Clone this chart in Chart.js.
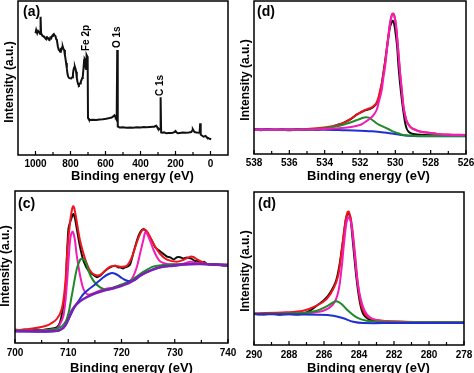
<!DOCTYPE html>
<html><head><meta charset="utf-8">
<script src="https://cdn.jsdelivr.net/npm/chart.js@4.4.1/dist/chart.umd.min.js"></script>
<style>
html,body{margin:0;padding:0;background:#fff;}
#wrap{position:relative;width:474px;height:373px;overflow:hidden;background:#fff;}
canvas{position:absolute;}
</style></head><body>
<div id="wrap">
<canvas id="pa" width="237" height="186" style="left:0;top:0"></canvas>
<canvas id="pb" width="237" height="186" style="left:237px;top:0"></canvas>
<canvas id="pc" width="237" height="187" style="left:0;top:186px"></canvas>
<canvas id="pd" width="237" height="187" style="left:237px;top:186px"></canvas>
</div>
<script>
// ---------- DATA ([binding energy eV, intensity a.u.]) ----------
const surveyTicks = [1000, 800, 600, 400, 200, 0];
const surveyMinorTicks = [900, 700, 500, 300, 100];
const surveyPeakNames = ['Fe 2p', 'O 1s', 'C 1s'];
const surveyPeakEnergy = [711, 531, 285];
const surveyPeakHeight = [104, 107, 59];
const survey = [[1000,121.7],[996,125],[990,121.7],[985,124],[977,122.3],[973,121],[971,138.3],[968,121.7],[962,119.5],[958,119],[949,118.3],[944,116.5],[939,115.7],[934,118],[930,117.7],[925,115.5],[920,115],[915,117.5],[910,116.7],[905,119],[901,120],[895,121],[890,119.5],[886,119],[882,116],[878,115],[872,108.3],[867,105],[863,104.5],[859,103.3],[855,106],[851,105.7],[847,108],[844,108.3],[840,106],[836,105],[832,100],[829,96.7],[825,92],[821,86.7],[817,81],[813,78.3],[808,77],[802,76.7],[796,76.5],[790,77.7],[786,81],[783,85],[779,87.5],[775,88.3],[771,86],[768,83.3],[764,77],[760,73.3],[756,70.5],[752,70],[748,71],[745,71.7],[741,73.5],[737,75],[733,77],[730,78.3],[726,86],[722,95],[719,96],[716,95],[713,87],[711,86],[709,96],[707,100],[704,98.5],[702,97],[700,37],[695,35.5],[691,35],[672,35.3],[653,35],[634,35.6],[615,35.7],[596,36.3],[577,37],[565,37.5],[558,38.3],[552,39.2],[549,39.7],[545,38.5],[541,37],[536,37.5],[533,105],[530,28.5],[526,28.3],[520,27.5],[500,27.8],[480,27.3],[460,27.6],[444,27.3],[420,27.8],[400,27.5],[380,27.9],[368,27.7],[345,28],[330,28.2],[320,28.3],[314,29],[310,29.3],[305,28],[301,26.7],[296,26.2],[291,25.7],[288,26],[285,57.7],[282,22.5],[276,22.3],[265,22.6],[253,21.7],[240,22],[225,22.1],[215,22.3],[205,23],[200,24],[195,22.8],[187,21.7],[175,22.1],[160,22.4],[139,22.3],[125,22.6],[110,23],[104,24.5],[101,25.7],[96,24.2],[91,23],[80,22.5],[67,22.3],[62,23],[59,31.7],[56,20.5],[50,19.5],[45,19],[40,18.3],[35,18.6],[29,19],[25,18.5],[21,17.7],[15,17.2],[10,16.7],[5,16.2],[-4,15.7]];

const o1sTicks = [538, 536, 534, 532, 530, 528, 526];
const o1sMinorTicks = [537, 535, 533, 531, 529, 527];
const o1sRaw = [[538,24.3],[537.6,23.8],[537.2,24.6],[536.8,23.9],[536.4,24.4],[536,23.7],[535.6,24.5],[535.2,23.9],[534.8,24.6],[534.4,24.3],[534.1,25.2],[533.8,26.3],[533.5,27.6],[533.2,29.6],[533,30.6],[532.77,32.6],[532.5,35.2],[532.2,39.3],[532,41.2],[531.8,43],[531.6,44.2],[531.4,45.4],[531.2,47.8],[531.06,50.7],[530.95,55],[530.87,60.7],[530.77,70],[530.68,80.7],[530.58,92],[530.49,104],[530.4,116],[530.3,127.3],[530.2,132],[530.15,133.3],[530.08,131],[530.01,124],[529.9,108],[529.82,87.3],[529.73,70],[529.63,54],[529.54,42],[529.44,30.7],[529.35,25],[529.25,22.3],[529.1,20.5],[528.97,20],[528.6,19.3],[528,18.8],[527.4,18.6],[527,18.3],[526.5,18.5],[526,18.3]];
const o1sFit = [[538,24.5],[536,24.6],[535,25],[534.3,26],[533.5,28],[533,30.5],[532.77,32.3],[532.5,35.5],[532.2,39],[531.95,41.8],[531.72,44],[531.5,45.5],[531.34,46.7],[531.2,48.5],[531.06,51.3],[530.95,57],[530.87,63],[530.77,70],[530.68,80],[530.58,92],[530.49,105],[530.39,119],[530.3,131],[530.2,139],[530.13,140.5],[530.05,138],[529.96,128.5],[529.82,100.5],[529.73,81],[529.63,63.3],[529.54,47.7],[529.44,38.3],[529.35,32.5],[529.2,28.2],[529.06,25.9],[528.78,23.6],[528.59,22.4],[528,21.1],[527.63,20.1],[527,19.4],[526,19.1]];
const o1sLattice = [[538,24.2],[536,24.3],[535,24.5],[534,25],[533,26],[532.5,27],[532,29],[531.82,30.7],[531.5,34.5],[531.25,38.5],[531.06,44],[530.92,53],[530.77,64],[530.68,76],[530.58,87.3],[530.49,102],[530.39,117.3],[530.3,130],[530.2,138.5],[530.13,140],[530.05,137.5],[529.96,128],[529.82,100],[529.73,80.7],[529.63,63],[529.54,47.3],[529.44,38],[529.35,32.3],[529.2,28],[529.06,25.7],[528.78,23.5],[528.59,22.3],[528,21],[527.63,20],[527,19.3],[526,19]];
const o1sHydroxyl = [[538,24],[536,24.2],[535,24.6],[534,25.8],[533.34,27.7],[533,29],[532.58,31.3],[532.2,33.7],[532,35],[531.82,36.2],[531.67,36.7],[531.5,36.3],[531.25,33.3],[531,30],[530.68,27.3],[530.4,25],[530.11,22.3],[529.8,20.5],[529.54,19],[529,18.2],[528,18],[526,18]];
const o1sBackground = [[538,24.7],[536,24.5],[534,24.2],[533,23.8],[532,23.3],[531.5,22.8],[531,22.3],[530.5,21.3],[530,20],[529.54,18.7],[529,18],[528,17.8],[526,17.8]];

const fe2pTicks = [700, 710, 720, 730, 740];
const fe2pMinorTicks = [705, 715, 725, 735];
const fe2pRaw = [[700,13.3],[701,12.8],[702,13.6],[703,12.5],[704,13.4],[705,13],[706,13.8],[707,14.5],[707.84,15.7],[708.46,20.7],[709.09,37.3],[709.53,57.3],[709.72,84],[710.03,114],[710.34,120.7],[710.66,125.7],[710.97,129],[711.29,124],[711.72,110.7],[712.23,95.7],[712.85,82.3],[713.79,72.3],[714.73,68],[715.36,65.7],[715.99,67.3],[716.3,69],[716.93,72.3],[717.87,75.7],[718.81,77.3],[719.4,75.5],[719.75,75.7],[720.3,74.5],[720.69,75.7],[721.2,76.5],[721.63,78.7],[722.26,90.7],[722.88,102.3],[723.51,110.7],[724.14,114],[724.5,112.5],[724.76,110.7],[725.3,106],[725.71,102.3],[726.3,96],[726.65,94],[727.3,91.5],[727.9,89],[728.5,86.5],[729.15,85.7],[729.8,83.5],[730.41,85.7],[731.03,85.7],[731.66,84.5],[732.29,85.5],[732.92,84.7],[733.23,84],[733.8,82],[734.17,82.3],[734.8,80],[735.5,81.2],[736.05,79],[737,78.5],[737.93,78.7],[739,77.5],[740,78]];
const fe2pFit = [[700,13],[702,13.5],[704.7,15.7],[706,17.5],[706.58,19],[707.84,24],[708.78,34],[709.4,57.3],[709.9,97.3],[710.34,120.7],[710.72,134],[710.97,136.7],[711.29,130.7],[711.72,117.3],[712.23,102],[713.17,84],[714.11,72.3],[715.05,68],[715.99,68],[716.93,72.3],[717.87,76.3],[718.81,77.3],[719.75,76.3],[721,77.3],[721.94,85.7],[722.88,100.7],[723.82,112.3],[724.45,113.3],[725.08,109],[726.02,99],[727.27,89],[728.53,83.3],[730.41,81.3],[731.66,83.3],[732.92,86.3],[733.5,86],[734.17,83.7],[736.05,79],[738,78.3],[740,78]];
const fe2pMain = [[700,12.3],[704,12.5],[706.58,13.3],[707.84,14.3],[708.15,15.7],[709.09,27.3],[709.72,57.3],[710.16,90.7],[710.47,107.3],[710.85,111.3],[711.22,104],[711.6,87.3],[712.23,67.3],[712.85,54],[713.48,49],[714.11,48.5],[715.05,50.3],[716,52.5],[717,54],[718,55],[719,56],[720,58],[721,60],[721.94,64],[722.88,76],[723.51,90],[724.14,104],[724.45,110.7],[724.76,109.5],[725.39,102],[726.02,93],[726.65,86],[727.27,81.5],[728.53,79],[730,78.7],[731.66,79.3],[732.92,81.3],[734,80],[736,79],[740,78.5]];
const fe2pSecond = [[700,12.3],[706,12.8],[708.46,15.7],[709.72,24],[710.66,47.3],[711.6,74],[712.23,83.3],[712.54,84],[713.17,82.3],[714.11,68],[715.05,60],[715.99,55.7],[716.93,53.5],[717.87,54],[719,56.5],[720,58.5],[721,60.5],[722,63.5],[723,67],[724,71],[725,74],[726,76.5],[728,78],[730,78.5],[733,79],[736,79],[740,78.3]];
const fe2pSatellite = [[700,11.7],[708,12],[709.4,17.3],[710.34,27],[711.2,36],[712,42.5],[712.85,49],[713.8,53.5],[714.73,57.3],[715.7,61.7],[716.61,65.7],[717.4,68.5],[718.18,70],[718.81,69.3],[719.44,67.3],[720.06,65],[720.69,63],[721.63,61.5],[722.26,62.3],[722.88,64.3],[723.51,67.3],[725.39,72.3],[727.27,75.7],[729.78,77.3],[732.29,78.7],[734.8,79],[737.93,78.3],[740,77.3]];
const fe2pBackground = [[700,11.7],[704,11.7],[707.84,12.3],[708.78,14],[709.4,17.3],[710.03,24],[710.66,32.3],[711.6,39],[712.85,44],[714.73,49],[716.61,52.3],[719.12,55.7],[721.63,60.7],[723.51,67.3],[725.39,72.3],[727.27,75.7],[729.78,77.3],[732.29,78.7],[734.8,79],[737.93,78.3],[740,77.3]];

const c1sTicks = [290, 288, 286, 284, 282, 280, 278];
const c1sMinorTicks = [289, 287, 285, 283, 281, 279];
const c1sRaw = [[290,31],[289.5,30.5],[289,31.2],[288.5,30.2],[288,31],[287.5,30.6],[287.19,31.5],[286.8,34.3],[286.42,39.3],[286.04,44.3],[285.76,49.3],[285.47,57.7],[285.28,66],[285.09,82.7],[284.9,106],[284.75,126],[284.62,132.7],[284.48,126],[284.33,99.3],[284.14,66],[283.95,42.7],[283.76,31],[283.48,26],[283.19,24.3],[282.81,23.3],[282,23],[281,22.8],[280,22.7],[279,22.8],[278,22.7]];
const c1sFit = [[290,31.7],[288.14,32.7],[287.19,34.3],[286.42,39.3],[285.85,46],[285.47,56],[285.19,69.3],[285,92.7],[284.81,119.3],[284.66,132.7],[284.58,133.3],[284.43,122.7],[284.24,92.7],[284.05,59.3],[283.86,39.3],[283.57,29.3],[283,25],[281.48,23.3],[280,22.8],[278,22.7]];
const c1sMain = [[290,31],[288,31.3],[287.19,31.7],[286.04,34.3],[285.47,41],[285.19,52.7],[285,76],[284.87,99.3],[284.71,122.7],[284.58,127.7],[284.43,119.3],[284.24,89.3],[284.05,59.3],[283.76,37.7],[283.38,27.7],[282.81,24.3],[281.48,23.3],[280,22.8],[278,22.7]];
const c1sSecond = [[290,31],[287.19,32],[286.42,34.3],[285.85,38.7],[285.47,42.7],[285.28,43.7],[285,41],[284.62,34.3],[284.14,27.7],[283.57,24.3],[282.81,23.3],[281,22.8],[278,22.7]];
const c1sBackground = [[290,31],[286.23,30.3],[285.47,29.3],[284.9,26.7],[284.33,23.3],[283.76,22],[282,22],[278,22]];

// ---------- STYLE ----------
const FAM = 'Arial, "Liberation Sans", sans-serif';
const C = { black:'#111111', red:'#f0141c', pink:'#f21cb8', green:'#1f8a28', blue:'#1f2fd0', purple:'#7a22b4' };
Chart.defaults.font.family = FAM;

const decor = {
  id: 'decor',
  afterDraw(chart, args, o) {
    const ctx = chart.ctx, a = chart.chartArea, xs = chart.scales.x, ys = chart.scales.y;
    ctx.save();
    ctx.strokeStyle = '#000'; ctx.lineWidth = 1.5;
    ctx.strokeRect(a.left, a.top, a.right - a.left, a.bottom - a.top);
    ctx.lineWidth = 1.2;
    ctx.beginPath();
    o.major.forEach(v => { const px = xs.getPixelForValue(v); ctx.moveTo(px, a.bottom); ctx.lineTo(px, a.bottom - 4); });
    o.minor.forEach(v => { const px = xs.getPixelForValue(v); ctx.moveTo(px, a.bottom); ctx.lineTo(px, a.bottom - 3); });
    ctx.stroke();
    ctx.fillStyle = '#000';
    ctx.textAlign = 'center'; ctx.textBaseline = 'middle';
    ctx.font = 'bold 13px ' + FAM;
    ctx.fillText(o.xTitle, o.xTitlePos[0], o.xTitlePos[1]);
    ctx.save();
    ctx.translate(o.yTitlePos[0], o.yTitlePos[1]); ctx.rotate(-Math.PI / 2);
    ctx.font = 'bold 12px ' + FAM; ctx.fillText(o.yTitle, 0, 0);
    ctx.restore();
    ctx.font = 'bold 14px ' + FAM; ctx.textAlign = 'left';
    ctx.fillText(o.label, o.labelPos[0], o.labelPos[1]);
    (o.peaks || []).forEach(p => {
      const px = xs.getPixelForValue(p.x), py = ys.getPixelForValue(p.y);
      ctx.save(); ctx.translate(px, py); ctx.rotate(-Math.PI / 2);
      ctx.font = 'bold 10px ' + FAM; ctx.textAlign = 'left'; ctx.textBaseline = 'middle';
      ctx.fillText(p.text, 0, 0); ctx.restore();
    });
    ctx.restore();
  }
};

function makePanel(id, cfg) {
  new Chart(document.getElementById(id), {
    type: 'line',
    data: { datasets: cfg.series.map(s => ({
      data: s.pts.map(p => ({ x: p[0], y: p[1] })),
      borderColor: s.color, borderWidth: s.width || 2, pointRadius: 0,
      tension: s.tension === undefined ? 0.35 : s.tension, fill: false
    })) },
    options: {
      responsive: false, animation: false, events: [],
      layout: { padding: cfg.pad },
      plugins: { legend: { display: false }, tooltip: { enabled: false }, decor: cfg.decor },
      scales: {
        x: {
          type: 'linear', min: cfg.xMin, max: cfg.xMax, reverse: cfg.reverse,
          afterBuildTicks: ax => { ax.ticks = cfg.ticks.map(v => ({ value: v })); },
          afterFit: ax => { ax.height = cfg.xh; ax.paddingLeft = 0; ax.paddingRight = 0; },
          ticks: { font: { size: 10, weight: 'bold' }, color: '#000', padding: cfg.tickPad,
                   maxRotation: 0, autoSkip: false, callback: v => String(v) },
          grid: { display: false, drawTicks: false }, border: { display: false }
        },
        y: { display: false, min: 0, max: cfg.yMax }
      }
    },
    plugins: [decor]
  });
}

const X_TITLE = 'Binding energy (eV)';
const Y_TITLE = 'Intensity (a.u.)';

makePanel('pa', {
  pad: { left: 18, right: 9, top: 1, bottom: 0 }, xh: 31, yMax: 154, tickPad: 3,
  xMin: -100, xMax: 1100, reverse: true, ticks: surveyTicks,
  series: [{ pts: survey, color: C.black, width: 2, tension: 0 }],
  decor: { major: surveyTicks, minor: surveyMinorTicks, xTitle: X_TITLE, xTitlePos: [132.5, 176.5],
           yTitle: Y_TITLE, yTitlePos: [10, 82], label: '(a)', labelPos: [23, 12],
           peaks: surveyPeakNames.map((t, i) => ({ text: t, x: surveyPeakEnergy[i], y: surveyPeakHeight[i] })) }
});

makePanel('pb', {
  pad: { left: 17, right: 8, top: 1, bottom: 0 }, xh: 32, yMax: 153, tickPad: 3,
  xMin: 526, xMax: 538, reverse: true, ticks: o1sTicks,
  series: [
    { pts: o1sLattice, color: C.pink },
    { pts: o1sHydroxyl, color: C.green },
    { pts: o1sBackground, color: C.blue },
    { pts: o1sFit, color: C.red },
    { pts: o1sRaw, color: C.black, tension: 0.2 }
  ],
  decor: { major: o1sTicks, minor: o1sMinorTicks, xTitle: X_TITLE, xTitlePos: [131.5, 176.5],
           yTitle: Y_TITLE, yTitlePos: [8.5, 80], label: '(d)', labelPos: [20, 12.5] }
});

makePanel('pc', {
  pad: { left: 15, right: 9, top: 5, bottom: 0 }, xh: 30, yMax: 152, tickPad: 4,
  xMin: 700, xMax: 740, reverse: false, ticks: fe2pTicks,
  series: [
    { pts: fe2pBackground, color: C.purple, width: 2.5 },
    { pts: fe2pSatellite, color: C.blue },
    { pts: fe2pSecond, color: C.green },
    { pts: fe2pMain, color: C.pink },
    { pts: fe2pFit, color: C.red },
    { pts: fe2pRaw, color: C.black, tension: 0.2 }
  ],
  decor: { major: fe2pTicks, minor: fe2pMinorTicks, xTitle: X_TITLE, xTitlePos: [131.5, 182],
           yTitle: Y_TITLE, yTitlePos: [5.5, 80], label: '(c)', labelPos: [18, 18] }
});

makePanel('pd', {
  pad: { left: 17, right: 10, top: 6, bottom: 0 }, xh: 28, yMax: 153, tickPad: 4,
  xMin: 278, xMax: 290, reverse: true, ticks: c1sTicks,
  series: [
    { pts: c1sBackground, color: C.blue },
    { pts: c1sSecond, color: C.green },
    { pts: c1sMain, color: C.pink },
    { pts: c1sFit, color: C.red },
    { pts: c1sRaw, color: C.black, tension: 0.2 }
  ],
  decor: { major: c1sTicks, minor: c1sMinorTicks, xTitle: X_TITLE, xTitlePos: [131.5, 182],
           yTitle: Y_TITLE, yTitlePos: [9, 85], label: '(d)', labelPos: [21, 18] }
});
</script>
</body></html>
